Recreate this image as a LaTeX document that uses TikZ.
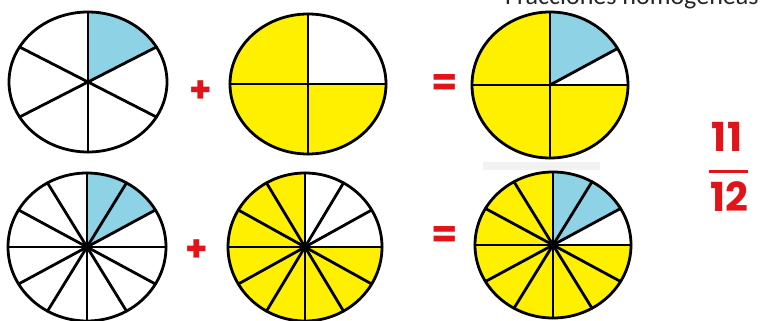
\documentclass[tikz,border=0pt]{standalone}
\usepackage{fontspec}
\newfontfamily\titlefont{Carlito}
\newfontfamily\numfont{Poppins}
\definecolor{pieblue}{RGB}{142,210,230}
\definecolor{pieyellow}{RGB}{255,240,0}
\definecolor{signred}{RGB}{225,20,25}
\newcommand\piesect[7]{%
  \fill[#7] (#1pt,#2pt) -- ++(#5:#3pt and #4pt)
    arc[start angle=#5,end angle=#6,x radius=#3pt,y radius=#4pt] -- cycle;}
\newcommand\pielines[5]{%
  \foreach \a in {#5} {\draw[pieline] (#1pt,#2pt) -- ++(\a:#3pt and #4pt);}
  \draw[pieline] (#1pt,#2pt) ellipse[x radius=#3pt,y radius=#4pt];}
\begin{document}
\begin{tikzpicture}[x=1pt,y=1pt,
  pieline/.style={line width=2.8pt,line cap=round,line join=round,black},
  sign/.style={text=signred,font=\numfont\bfseries\fontsize{36}{36}\selectfont,inner sep=0pt},
  fracnum/.style={text=signred,font=\numfont\bfseries\fontsize{40}{40}\selectfont,inner sep=0pt}]
\useasboundingbox (0,0) rectangle (774,321);
\fill[white] (0,0) rectangle (774,321);
% faint grey bar
\fill[gray!10] (483,151) rectangle (600,159);
% title (cut off at top)
\node[anchor=base west,inner sep=0pt,font=\titlefont\fontsize{26}{26}\selectfont,text=black!85] (title) at (505,316) {Fracciones homogéneas};

% ---- top row ----
\coordinate (tl) at (88,239);
\piesect{88}{239}{79}{70}{30}{90}{pieblue}
\pielines{88}{239}{79}{70}{90,30,-30,-90,-150,150}
\coordinate (tm) at (308,237);
\piesect{308}{237}{78}{70}{90}{360}{pieyellow}
\pielines{308}{237}{78}{70}{0,90,180,270}
\coordinate (tr) at (550,236);
\piesect{550}{236}{78}{73}{90}{360}{pieyellow}
\piesect{550}{236}{78}{73}{30}{90}{pieblue}
\pielines{550}{236}{78}{73}{0,30,90,180,270}

% ---- bottom row ----
\coordinate (bl) at (87,74);
\piesect{87}{74}{79}{74}{30}{90}{pieblue}
\pielines{87}{74}{79}{74}{0,30,...,330}
\coordinate (bm) at (305,74);
\piesect{305}{74}{77}{74}{90}{360}{pieyellow}
\pielines{305}{74}{77}{74}{0,30,...,330}
\coordinate (br) at (553,76);
\piesect{553}{76}{78}{73}{90}{360}{pieyellow}
\piesect{553}{76}{78}{73}{30}{90}{pieblue}
\pielines{553}{76}{78}{73}{0,30,...,330}

% signs
\node[sign] (plus1) at (201,229) {+};
\node[sign] (plus2) at (197,70) {+};
\node[sign,font=\numfont\bfseries\fontsize{38}{38}\selectfont] (eq1) at (445,236) {=};
\node[sign,font=\numfont\bfseries\fontsize{38}{38}\selectfont] (eq2) at (445,84) {=};

% fraction
\node[fracnum] (num) at (727,184) {11};
\node[fracnum] (den) at (729,124) {12};
\draw[signred,line width=3pt] (709,149) -- (748,149);
\end{tikzpicture}
\end{document}
